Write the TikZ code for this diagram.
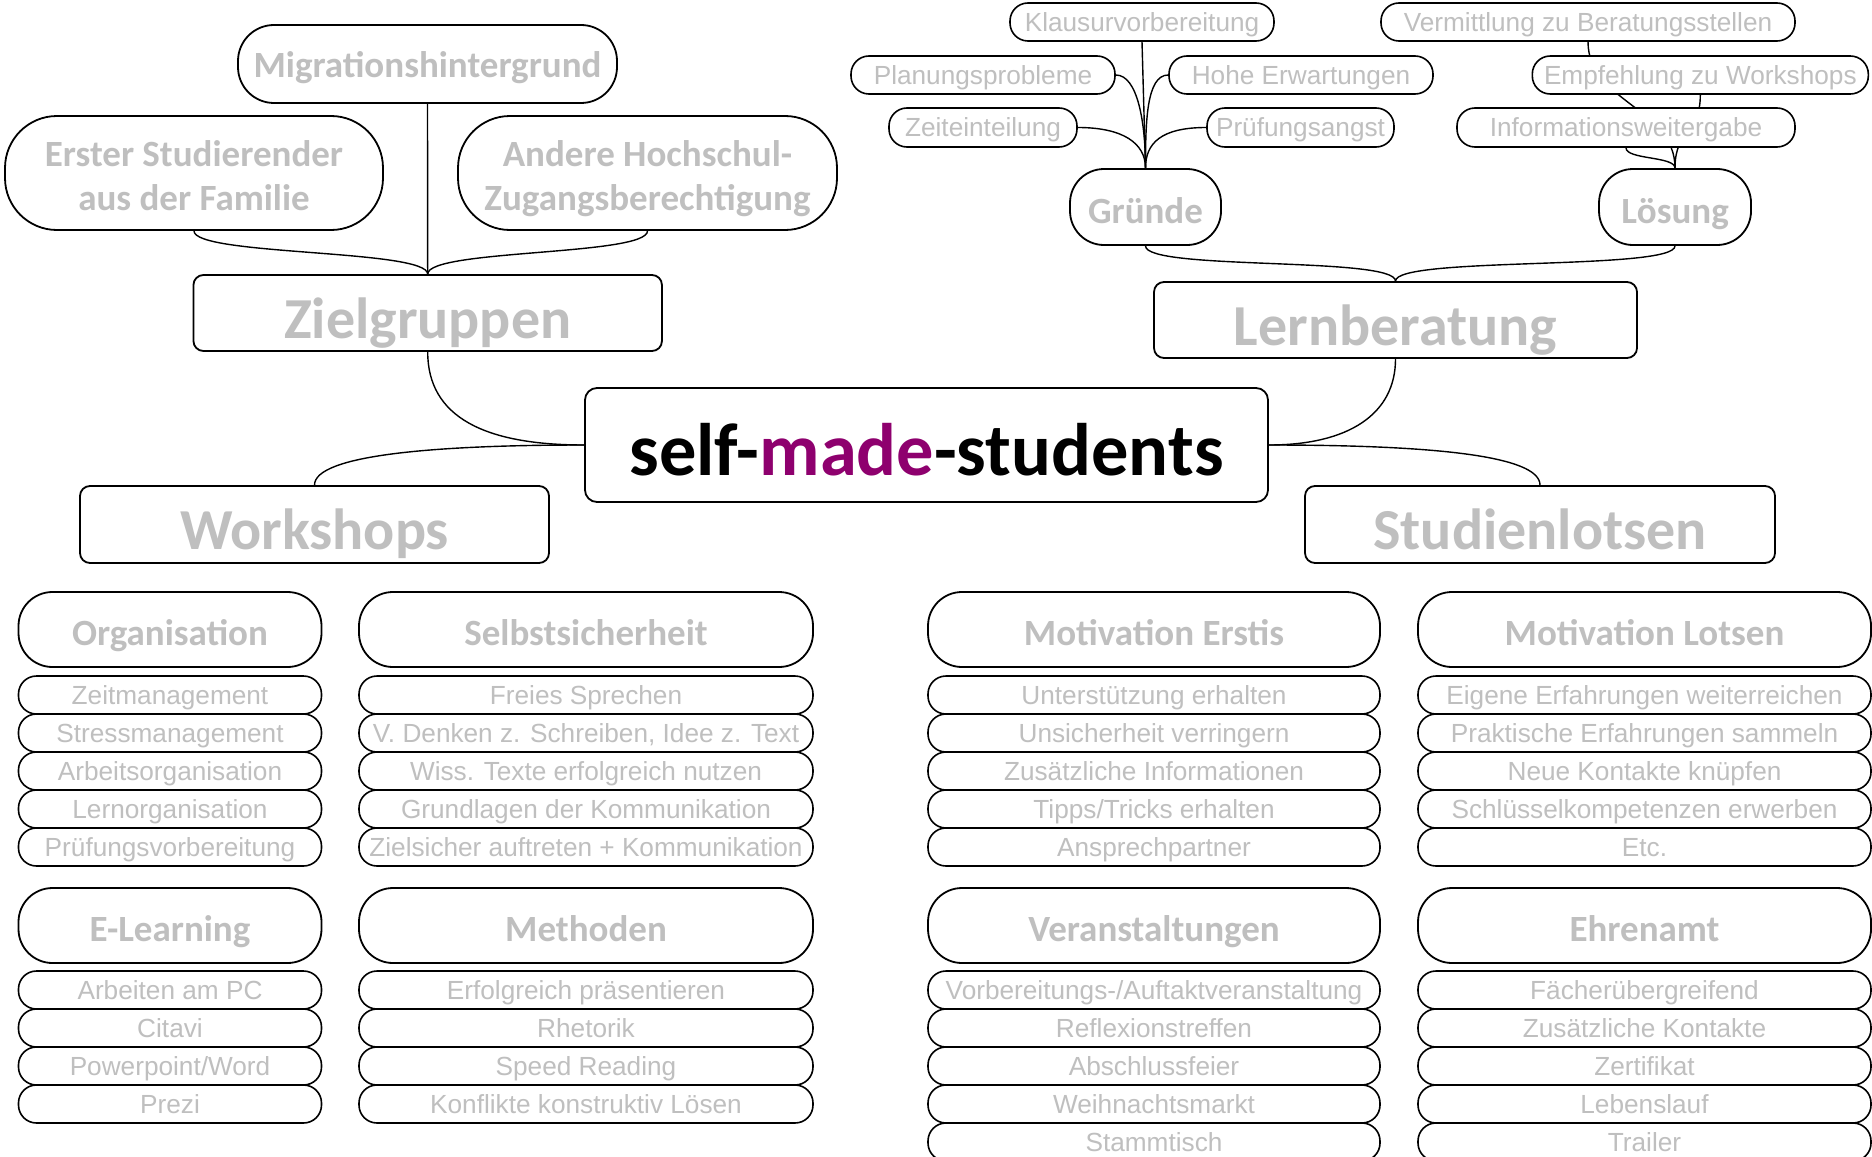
\documentclass[tikz,border=0pt]{standalone}
\usepackage{fontspec}
\setmainfont{Liberation Sans}
\newfontfamily\carl{Carlito}
\usetikzlibrary{calc}
\pgfdeclarelayer{bg}
\pgfsetlayers{bg,main}
\definecolor{tgray}{RGB}{191,191,191}
\definecolor{mpurple}{RGB}{142,0,110}
\tikzset{
  sz/.style 2 args={minimum width=#1*0.5pt, minimum height=#2*0.5pt},
  bigbox/.style={draw, line width=0.9pt, rounded corners=5pt, fill=white, inner sep=0pt, text=tgray, font=\carl\bfseries\fontsize{29}{34}\selectfont, text height=27pt, text depth=2pt},
  headpill/.style={draw, line width=0.9pt, rounded corners=17pt, fill=white, inner sep=0pt, text=tgray, font=\carl\bfseries\fontsize{18.5}{22}\selectfont, text height=17pt, text depth=1pt},
  itempill/.style={draw, line width=0.8pt, rounded corners=9pt, fill=white, inner sep=0pt, text=tgray, font=\fontsize{13.1}{15}\selectfont, text height=10.3pt, text depth=1pt},
  conn/.style={line width=0.7pt}
}
\begin{document}
\begin{tikzpicture}[x=0.5pt,y=-0.5pt]
\useasboundingbox (0,0) rectangle (1872,1156);

% main nodes
\node[bigbox, sz={683}{114}, rounded corners=6pt, text=black, font=\carl\bfseries\fontsize{37.2}{44}\selectfont, text height=33pt, text depth=3pt] (self) at (926.5,445) {self-\textcolor{mpurple}{made}-students};
\node[bigbox, sz={468.5}{76}] (ziel) at (427.7,313) {Zielgruppen};
\node[bigbox, sz={483}{76}] (lern) at (1395.5,320) {Lernberatung};
\node[bigbox, sz={469}{77}] (work) at (314.5,524.5) {Workshops};
\node[bigbox, sz={470}{77}] (lots) at (1540,524.5) {Studienlotsen};

% Zielgruppen children
\node[headpill, sz={379}{78}, rounded corners=18pt, text height=15pt] (migr) at (427.5,64) {Migrationshintergrund};
\node[headpill, sz={378}{114}, rounded corners=26pt, text height=38.7pt] (erst) at (194,173) {\begin{tabular}[b]{@{}c@{}}Erster Studierender\\aus der Familie\end{tabular}};
\node[headpill, sz={379}{114}, rounded corners=26pt, text height=38.7pt] (andr) at (647.5,173) {\begin{tabular}[b]{@{}c@{}}Andere Hochschul-\\Zugangsberechtigung\end{tabular}};

% Lernberatung children
\node[headpill, sz={151}{76}] (grue) at (1145.5,207) {Gründe};
\node[headpill, sz={152}{76}] (loes) at (1675,207) {Lösung};
\node[itempill, sz={264}{38}] (klaus) at (1142,22) {Klausurvorbereitung};
\node[itempill, sz={264}{38}] (plan) at (983,75) {Planungsprobleme};
\node[itempill, sz={264}{38}] (hohe) at (1301,75) {Hohe Erwartungen};
\node[itempill, sz={188}{39}] (zeit) at (983,127.5) {Zeiteinteilung};
\node[itempill, sz={187}{39}] (pruef) at (1300.5,127.5) {Prüfungsangst};
\node[itempill, sz={414}{38}] (verm) at (1588,22) {Vermittlung zu Beratungsstellen};
\node[itempill, sz={336}{38}] (empf) at (1700.3,75) {Empfehlung zu Workshops};
\node[itempill, sz={338}{39}] (info) at (1626,127.5) {Informationsweitergabe};

% bottom headings
\node[headpill, sz={303}{75}] (org) at (170,629.5) {Organisation};
\node[headpill, sz={454}{75}] (sel) at (586,629.5) {Selbstsicherheit};
\node[headpill, sz={452}{75}] (moe) at (1154,629.5) {Motivation Erstis};
\node[headpill, sz={453}{75}] (mol) at (1644.5,629.5) {Motivation Lotsen};
\node[headpill, sz={303}{75}] (elr) at (170,925.5) {E-Learning};
\node[headpill, sz={454}{75}] (met) at (586,925.5) {Methoden};
\node[headpill, sz={452}{75}] (ver) at (1154,925.5) {Veranstaltungen};
\node[headpill, sz={453}{75}] (ehr) at (1644.5,925.5) {Ehrenamt};

% items
\foreach \t [count=\i] in {Zeitmanagement,Stressmanagement,Arbeitsorganisation,Lernorganisation,Prüfungsvorbereitung}
  \node[itempill, sz={303}{38}] (org\i) at (170,{695+38*(\i-1)}) {\t};
\foreach \t [count=\i] in {Freies Sprechen,{V. Denken z. Schreiben, Idee z. Text},Wiss. Texte erfolgreich nutzen,Grundlagen der Kommunikation,Zielsicher auftreten + Kommunikation}
  \node[itempill, sz={454}{38}] (sel\i) at (586,{695+38*(\i-1)}) {\t};
\foreach \t [count=\i] in {Unterstützung erhalten,Unsicherheit verringern,Zusätzliche Informationen,Tipps/Tricks erhalten,Ansprechpartner}
  \node[itempill, sz={452}{38}] (moe\i) at (1154,{695+38*(\i-1)}) {\t};
\foreach \t [count=\i] in {Eigene Erfahrungen weiterreichen,Praktische Erfahrungen sammeln,Neue Kontakte knüpfen,Schlüsselkompetenzen erwerben,Etc.}
  \node[itempill, sz={453}{38}] (mol\i) at (1644.5,{695+38*(\i-1)}) {\t};
\foreach \t [count=\i] in {Arbeiten am PC,Citavi,Powerpoint/Word,Prezi}
  \node[itempill, sz={303}{38}] (elr\i) at (170,{990+38*(\i-1)}) {\t};
\foreach \t [count=\i] in {Erfolgreich präsentieren,Rhetorik,Speed Reading,Konflikte konstruktiv Lösen}
  \node[itempill, sz={454}{38}] (met\i) at (586,{990+38*(\i-1)}) {\t};
\foreach \t [count=\i] in {Vorbereitungs-/Auftaktveranstaltung,Reflexionstreffen,Abschlussfeier,Weihnachtsmarkt,Stammtisch}
  \node[itempill, sz={452}{38}] (ver\i) at (1154,{990+38*(\i-1)}) {\t};
\foreach \t [count=\i] in {Fächerübergreifend,Zusätzliche Kontakte,Zertifikat,Lebenslauf,Trailer}
  \node[itempill, sz={453}{38}] (ehr\i) at (1644.5,{990+38*(\i-1)}) {\t};

% connectors
\begin{pgfonlayer}{bg}
\draw[conn] (self.west) .. controls ($(self.west)+(-100,0)$) and ($(ziel.south)+(0,65)$) .. (ziel.south);
\draw[conn] (self.west) .. controls ($(self.west)+(-150,0)$) and ($(work.north)+(0,-30)$) .. (work.north);
\draw[conn] (self.east) .. controls ($(self.east)+(80,0)$) and ($(lern.south)+(0,55)$) .. (lern.south);
\draw[conn] (self.east) .. controls ($(self.east)+(160,0)$) and ($(lots.north)+(0,-30)$) .. (lots.north);

\draw[conn] (ziel.north) -- (migr.south);
\draw[conn] (ziel.north) .. controls ($(ziel.north)+(0,-25)$) and ($(erst.south)+(0,25)$) .. (erst.south);
\draw[conn] (ziel.north) .. controls ($(ziel.north)+(0,-25)$) and ($(andr.south)+(0,25)$) .. (andr.south);

\draw[conn] (lern.north) .. controls ($(lern.north)+(0,-25)$) and ($(grue.south)+(0,25)$) .. (grue.south);
\draw[conn] (lern.north) .. controls ($(lern.north)+(0,-25)$) and ($(loes.south)+(0,25)$) .. (loes.south);

\draw[conn] (grue.north) -- (klaus.south);
\draw[conn] (plan.east) .. controls ($(plan.east)+(22,0)$) and ($(grue.north)+(0,-45)$) .. (grue.north);
\draw[conn] (hohe.west) .. controls ($(hohe.west)+(-22,0)$) and ($(grue.north)+(0,-45)$) .. (grue.north);
\draw[conn] (zeit.east) .. controls ($(zeit.east)+(45,0)$) and ($(grue.north)+(0,-25)$) .. (grue.north);
\draw[conn] (pruef.west) .. controls ($(pruef.west)+(-45,0)$) and ($(grue.north)+(0,-25)$) .. (grue.north);

\draw[conn] (loes.north) .. controls ($(loes.north)+(0,-12)$) and ($(info.south)+(0,12)$) .. (info.south);
\draw[conn] (loes.north) .. controls ($(loes.north)+(0,-40)$) and ($(empf.south)+(0,40)$) .. (empf.south);
\draw[conn] (loes.north) .. controls ($(loes.north)+(0,-60)$) and ($(verm.south)+(0,60)$) .. (verm.south);
\end{pgfonlayer}
\end{tikzpicture}
\end{document}
